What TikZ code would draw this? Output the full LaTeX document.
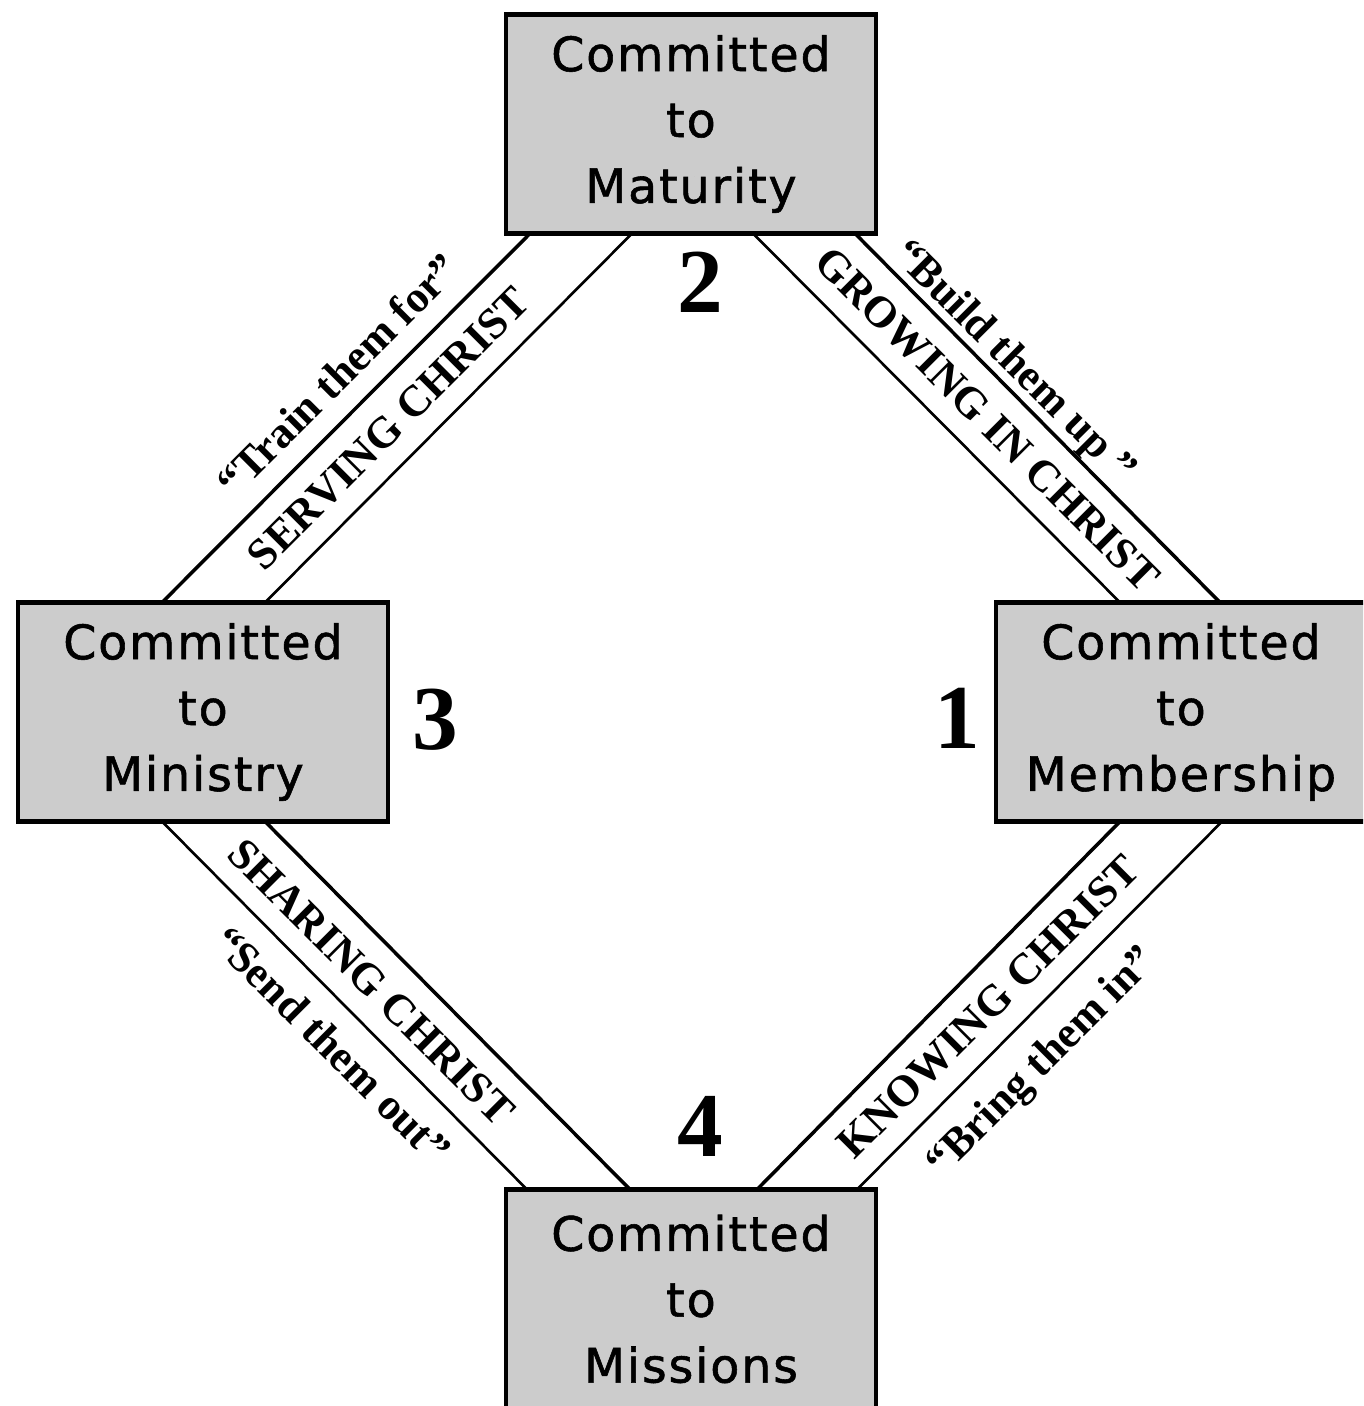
\documentclass[tikz,border=0pt]{standalone}
\usepackage{fontspec}
\setmainfont{Liberation Serif}
\newfontfamily\boxfont[LetterSpace=4,FakeBold=1.2]{DejaVu Sans}
\usetikzlibrary{calc}
\definecolor{boxgray}{RGB}{204,204,204}

\begin{document}
\begin{tikzpicture}[x=0.02cm, y=0.02cm,
        stage/.style={draw=black, line width=2.4pt, fill=boxgray, minimum width=7.4cm,
            minimum height=4.38cm, inner sep=0pt, outer sep=0pt, align=center,
            font=\boxfont\fontsize{27}{37.5}\selectfont},
        stepno/.style={font=\bfseries\fontsize{52}{52}\selectfont, inner sep=0pt},
        band/.style={font=\bfseries\fontsize{25}{25}\selectfont, inner sep=0pt, anchor=base},
        rail/.style={line width=2pt},
        thinrail/.style={line width=1.5pt}]

        \useasboundingbox (0,0) rectangle (1363,1406);
        \clip (0,0) rectangle (1363,1406);

        % the four stages
        \node[stage] (maturity) at (691,1282) {Committed\\to\\Maturity};
        \node[stage] (ministry) at (203,694) {Committed\\to\\Ministry};
        \node[stage] (membership) at (1181,694) {Committed\\to\\Membership};
        \node[stage] (missions) at (691,107) {Committed\\to\\Missions};

        % rails between the stages
        \draw[rail] ($(maturity.south west)+(24,0)$) -- ($(ministry.north west)+(144,0)$);
        \draw[thinrail] ($(maturity.south west)+(126,0)$) -- ($(ministry.north west)+(247,0)$);

        \draw[thinrail] ($(maturity.south west)+(247,0)$) -- ($(membership.north west)+(124,0)$);
        \draw[rail] ($(maturity.south west)+(349,0)$) -- ($(membership.north west)+(224,0)$);

        \draw[rail] ($(membership.south west)+(124,0)$) -- ($(missions.north west)+(251,0)$);
        \draw[thinrail] ($(membership.south west)+(226,0)$) -- ($(missions.north west)+(351,0)$);

        \draw[thinrail] ($(ministry.south west)+(144,0)$) -- ($(missions.north west)+(21,0)$);
        \draw[rail] ($(ministry.south west)+(247,0)$) -- ($(missions.north west)+(124,0)$);

        % step numbers
        \node[stepno] (n1) at (957.5,687.5) {1};
        \node[stepno] (n2) at (700,1123.5) {2};
        \node[stepno] (n3) at (435,686) {3};
        \node[stepno] (n4) at (700,280) {4};

        % labels along the rails
        \node[band, rotate=45] (serving) at (398.5,967.5) {SERVING CHRIST};
        \node[band, rotate=45] (train) at (348.5,1020.5) {“Train them for”};

        \node[band, rotate=-45] (growing) at (977,977) {GROWING IN CHRIST};
        \node[band, rotate=-45] (build) at (1005.5,1035.5) {“Build them up ”};

        \node[band, rotate=45] (knowing) at (998.5,389.5) {KNOWING CHRIST};
        \node[band, rotate=45] (bring) at (1050.5,335.5) {“Bring them in”};

        \node[band, rotate=-45] (sharing) at (361,414) {SHARING CHRIST};
        \node[band, rotate=-45] (send) at (321.5,350.5) {“Send them out”};

    \end{tikzpicture}
\end{document}
